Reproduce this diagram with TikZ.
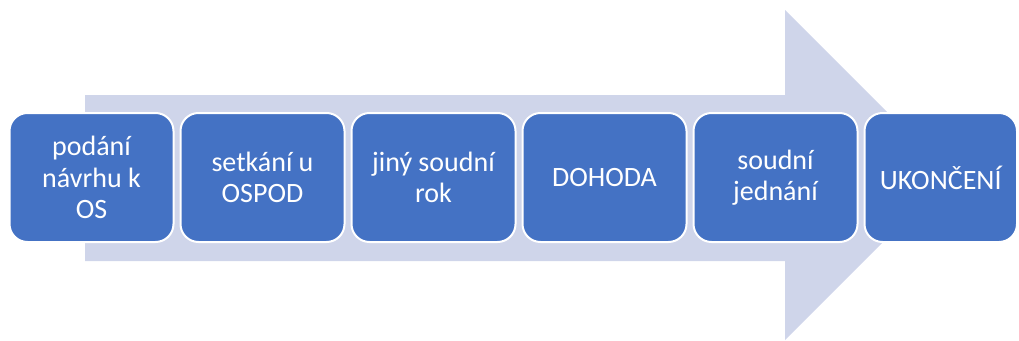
\documentclass[tikz,border=0pt]{standalone}
\usepackage{fontspec}
\setmainfont{Carlito}
\usepackage{tikz}
\usetikzlibrary{positioning}
\definecolor{stepblue}{HTML}{4472C4}
\definecolor{arrowgray}{HTML}{CFD5EA}
\newcommand{\boxw}{164pt}
\newcommand{\boxh}{129pt}
\newcommand{\boxgap}{5pt}

\begin{document}
\begin{tikzpicture}[x=1pt,y=-1pt,
    stepbox/.style={rectangle, rounded corners=18pt, fill=stepblue, draw=white,
        line width=2pt, minimum width=\boxw, minimum height=\boxh, inner sep=0pt,
        text=white, align=center, font=\fontsize{28}{31.5}\selectfont}]
        \useasboundingbox (0,0) rectangle (1019,340);
        \begin{scope}
            % big arrow behind the steps
            \fill[arrowgray] (85,95) -- (785,95) -- (785,10) -- (950,175)
                -- (785,340) -- (785,261) -- (85,261) -- cycle;

            \node[stepbox] (s1) at (91.5,177.5) {podání\\návrhu k\\OS};
            \node[stepbox, right=\boxgap of s1] (s2) {setkání u\\OSPOD};
            \node[stepbox, right=\boxgap of s2] (s3) {jiný soudní\\rok};
            \node[stepbox, right=\boxgap of s3] (s4) {DOHODA};
            \node[stepbox, right=\boxgap of s4] (s5) {soudní\\jednání};
            \node[stepbox, right=\boxgap of s5, minimum width=152.5pt] (s6) {UKONČENÍ};
        \end{scope}
\end{tikzpicture}
\end{document}
